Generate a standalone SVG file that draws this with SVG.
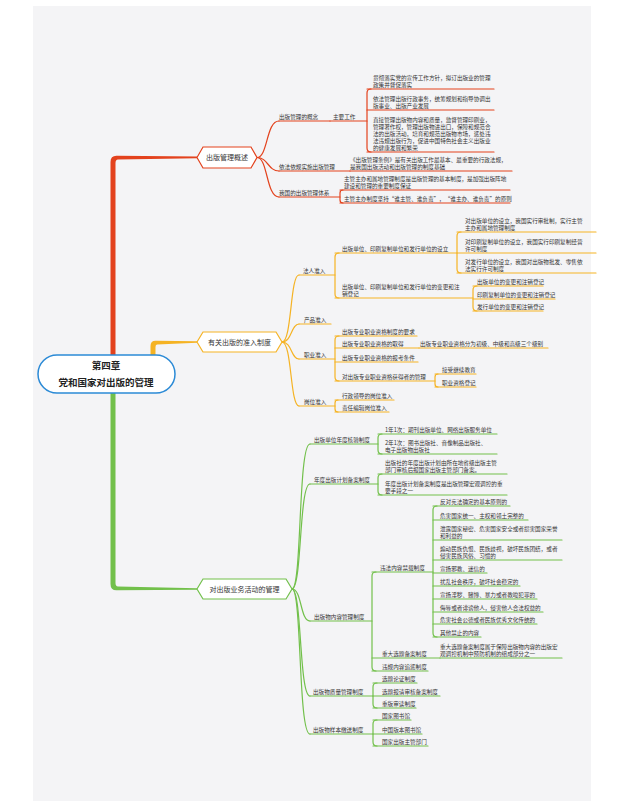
<svg xmlns="http://www.w3.org/2000/svg" width="619" height="805" viewBox="0 0 619 805">
<style>
text{font-family:"Noto Sans CJK SC","Noto Sans",sans-serif;fill:#333;font-size:5.6px}
.h{font-size:7px;text-anchor:middle}
.c{font-size:9.5px;font-weight:bold;text-anchor:middle;fill:#222}
.r{stroke:#e3421d;fill:none;stroke-width:1.2;stroke-linecap:round}
.y{stroke:#f5b324;fill:none;stroke-width:1.2;stroke-linecap:round}
.g{stroke:#72c04b;fill:none;stroke-width:1.2;stroke-linecap:round}
.hr{fill:#fff;stroke:#e3421d;stroke-width:1.2}
.hy{fill:#fff;stroke:#f5b324;stroke-width:1.2}
.hg{fill:#fff;stroke:#72c04b;stroke-width:1.2}
</style>
<rect x="0" y="0" width="619" height="805" fill="#fff"/>
<rect x="33" y="6" width="558" height="795" fill="#f4f4f6"/>

<g id="connectors">
  <path d="M110.5 356 L110.5 162 Q110.5 155.5 117 155.8 L197 156.6 L197 158.2 L118 159.6 Q115.5 159.8 115.5 163 L115.5 356 Z" fill="#e3421d"/>
  <path d="M150.5 356 L150.5 346 Q150.5 340.6 156 340.8 L197 341.3 L197 342.8 L157 344.4 Q155.5 344.6 155.5 347 L155.5 356 Z" fill="#f5b324"/>
  <path d="M110.5 392 L110.5 584 Q110.5 590.6 117 590.3 L197 589.8 L197 588.3 L118 586.6 Q115.5 586.4 115.5 583 L115.5 392 Z" fill="#72c04b"/>
  <!-- red -->
  <path class="r" d="M257 157.5 C268 157.5 266 121 279 121"/>
  <path class="r" d="M257 157.5 C268 157.5 268 171 279 171"/>
  <path class="r" d="M257 157.5 C268 157.5 266 197 279 197"/>
  <path class="r" d="M371 89 Q367 89 367 93 V148 Q367 152 371 152"/>
  <path class="r" d="M343 190 Q340 190 340 193 V200 Q340 203 343 203"/>
  <!-- yellow -->
  <path class="y" d="M282 342 C292 342 290 275 299 275"/>
  <path class="y" d="M282 342 C292 342 291 324 299 324"/>
  <path class="y" d="M282 342 C292 342 291 359 299 359"/>
  <path class="y" d="M282 342 C292 342 290 406 299 406"/>
  <path class="y" d="M339 253 Q335 253 335 257 V294 Q335 298 339 298"/>
  <path class="y" d="M461 232 Q457 232 457 236 V269 Q457 273 461 273"/>
  <path class="y" d="M477 286 Q473 286 473 290 V307 Q473 311 477 311"/>
  <path class="y" d="M339 336 Q335 336 335 340 V377 Q335 381 339 381"/>
  <path class="y" d="M438 374 Q435 374 435 377 V384 Q435 387 438 387"/>
  <path class="y" d="M338 400 Q335 400 335 403 V409 Q335 412 338 412"/>
  <!-- green -->
  <path class="g" d="M292 589 C302 589 298 444 310 444"/>
  <path class="g" d="M292 589 C302 589 299 484 310 484"/>
  <path class="g" d="M292 589 C302 589 300 621 310 621"/>
  <path class="g" d="M292 589 C302 589 299 696 310 696"/>
  <path class="g" d="M292 589 C302 589 298 734 310 734"/>
  <path class="g" d="M382 434 Q378 434 378 438 V450 Q378 454 382 454"/>
  <path class="g" d="M382 474 Q378 474 378 478 V491 Q378 495 382 495"/>
  <path class="g" d="M376 572 Q372 572 372 576 V667 Q372 671 376 671"/>
  <path class="g" d="M437 506 Q433 506 433 510 V633 Q433 637 437 637"/>
  <path class="g" d="M377 683 Q373 683 373 687 V704 Q373 708 377 708"/>
  <path class="g" d="M377 720 Q373 720 373 724 V742 Q373 746 377 746"/>
</g>

<g id="root">
  <rect x="38" y="355" width="137" height="38" rx="19" fill="#fff" stroke="#2b8ad6" stroke-width="1.5"/>
  <text class="c" x="106" y="368.5">第四章</text>
  <text class="c" x="106" y="385.5">党和国家对出版的管理</text>
</g>

<!-- red branch -->
<g id="n-gaishu">
  <polygon class="hr" points="197,157.5 203,147 251,147 257,157.5 251,168 203,168"/>
  <text class="h" x="227" y="160.2">出版管理概述</text>
</g>
<g id="n-gainian"><line class="r" x1="279" y1="121" x2="330" y2="121"/><text x="279" y="119.2">出版管理的概念</text></g>
<g id="n-zhuyao"><line class="r" x1="330" y1="121" x2="367" y2="121"/><text x="333" y="119.2">主要工作</text></g>
<g id="n-zy1"><line class="r" x1="367" y1="89" x2="494" y2="89"/><text x="373" y="80.2">贯彻落实党的宣传工作方针，拟订出版业的管理</text><text x="373" y="87.2">政策并督促落实</text></g>
<g id="n-zy2"><line class="r" x1="367" y1="110" x2="494" y2="110"/><text x="373" y="101.2">依法管理出版行政事务，统筹规划和指导协调出</text><text x="373" y="108.2">版事业、出版产业发展</text></g>
<g id="n-zy3"><line class="r" x1="367" y1="152" x2="494" y2="152"/>
  <text x="373" y="122.2">直接管理出版物内容和质量，监督管理印刷业，</text>
  <text x="373" y="129.2">管理著作权，管理出版物进出口，保障和规范合</text>
  <text x="373" y="136.2">法的出版活动，培育和规范出版物市场，惩处违</text>
  <text x="373" y="143.2">法违规出版行为，促进中国特色社会主义出版业</text>
  <text x="373" y="150.2">的健康发展和繁荣</text></g>
<g id="n-yifa"><line class="r" x1="279" y1="171" x2="350" y2="171"/><text x="279" y="169.2">依法依规实施出版管理</text></g>
<g id="n-tiaoli"><line class="r" x1="350" y1="171" x2="512" y2="171"/><text x="350" y="162.2">《出版管理条例》是有关出版工作最基本、最重要的行政法规，</text><text x="350" y="169.2">是我国出版活动和出版管理的制度基础</text></g>
<g id="n-tixi"><line class="r" x1="279" y1="197" x2="340" y2="197"/><text x="279" y="195.2">我国的出版管理体系</text></g>
<g id="n-tixi1"><line class="r" x1="340" y1="190" x2="510" y2="190"/><text x="344" y="181.2">主管主办和属地管理制度是出版管理的基本制度，是加强出版阵地</text><text x="344" y="188.2">建设和管理的重要制度保证</text></g>
<g id="n-tixi2"><line class="r" x1="340" y1="203" x2="510" y2="203"/><text x="344" y="201.2">主管主办制度坚持“谁主管、谁负责”，“谁主办、谁负责”的原则</text></g>

<!-- yellow branch -->
<g id="n-zhunru">
  <polygon class="hy" points="197,342 203,332 276,332 282,342 276,352 203,352"/>
  <text class="h" x="239.5" y="344.7">有关出版的准入制度</text>
</g>
<g id="n-faren"><line class="y" x1="299" y1="275" x2="335" y2="275"/><text x="303" y="273.2">法人准入</text></g>
<g id="n-sheli"><line class="y" x1="335" y1="253" x2="457" y2="253"/><text x="342" y="251.2">出版单位、印刷复制单位和发行单位的设立</text></g>
<g id="n-sheli1"><line class="y" x1="457" y1="232" x2="596" y2="232"/><text x="465" y="223.2">对出版单位的设立，我国实行审批制，实行主管</text><text x="465" y="230.2">主办和属地管理制度</text></g>
<g id="n-sheli2"><line class="y" x1="457" y1="253" x2="596" y2="253"/><text x="465" y="244.2">对印刷复制单位的设立，我国实行印刷复制经营</text><text x="465" y="251.2">许可制度</text></g>
<g id="n-sheli3"><line class="y" x1="457" y1="273" x2="596" y2="273"/><text x="465" y="264.2">对发行单位的设立，我国对出版物批发、零售依</text><text x="465" y="271.2">法实行许可制度</text></g>
<g id="n-biangeng"><line class="y" x1="335" y1="298" x2="473" y2="298"/><text x="342" y="289.2">出版单位、印刷复制单位和发行单位的变更和注</text><text x="342" y="296.2">销登记</text></g>
<g id="n-bg1"><line class="y" x1="473" y1="286" x2="543" y2="286"/><text x="477" y="284.2">出版单位的变更和注销登记</text></g>
<g id="n-bg2"><line class="y" x1="473" y1="299" x2="555" y2="299"/><text x="477" y="297.2">印刷复制单位的变更和注销登记</text></g>
<g id="n-bg3"><line class="y" x1="473" y1="311" x2="543" y2="311"/><text x="477" y="309.2">发行单位的变更和注销登记</text></g>
<g id="n-chanpin"><line class="y" x1="299" y1="324" x2="331" y2="324"/><text x="304" y="322.2">产品准入</text></g>
<g id="n-zhiye"><line class="y" x1="299" y1="359" x2="335" y2="359"/><text x="304" y="357.2">职业准入</text></g>
<g id="n-zy-a"><line class="y" x1="335" y1="336" x2="417" y2="336"/><text x="342" y="334.2">出版专业职业资格制度的要求</text></g>
<g id="n-zy-b"><line class="y" x1="335" y1="348" x2="419" y2="348"/><text x="342" y="346.2">出版专业职业资格的取得</text></g>
<g id="n-zy-b1"><line class="y" x1="419" y1="348" x2="548" y2="348"/><text x="420" y="346.2">出版专业职业资格分为初级、中级和高级三个级别</text></g>
<g id="n-zy-c"><line class="y" x1="335" y1="362" x2="418" y2="362"/><text x="342" y="360.2">出版专业职业资格的报考条件</text></g>
<g id="n-zy-d"><line class="y" x1="335" y1="381" x2="435" y2="381"/><text x="342" y="379.2">对出版专业职业资格获得者的管理</text></g>
<g id="n-zy-d1"><line class="y" x1="435" y1="374" x2="476" y2="374"/><text x="442" y="372.2">接受继续教育</text></g>
<g id="n-zy-d2"><line class="y" x1="435" y1="387" x2="476" y2="387"/><text x="442" y="385.2">职业资格登记</text></g>
<g id="n-gangwei"><line class="y" x1="299" y1="406" x2="335" y2="406"/><text x="304" y="404.2">岗位准入</text></g>
<g id="n-gw1"><line class="y" x1="335" y1="400" x2="394" y2="400"/><text x="342" y="398.2">行政领导的岗位准入</text></g>
<g id="n-gw2"><line class="y" x1="335" y1="412" x2="389" y2="412"/><text x="342" y="410.2">责任编辑岗位准入</text></g>

<!-- green branch -->
<g id="n-yewu">
  <polygon class="hg" points="197,589 203,579 286,579 292,589 286,599 203,599"/>
  <text class="h" x="244.5" y="591.7">对出版业务活动的管理</text>
</g>
<g id="n-hejian"><line class="g" x1="310" y1="444" x2="378" y2="444"/><text x="314" y="442.2">出版单位年度核验制度</text></g>
<g id="n-hj1"><line class="g" x1="378" y1="434" x2="497" y2="434"/><text x="385" y="432.2">1年1次：期刊出版单位、网络出版服务单位</text></g>
<g id="n-hj2"><line class="g" x1="378" y1="454" x2="497" y2="454"/><text x="385" y="445.2">2年1次：图书出版社、音像制品出版社、</text><text x="385" y="452.2">电子出版物出版社</text></g>
<g id="n-jihua"><line class="g" x1="310" y1="484" x2="378" y2="484"/><text x="314" y="482.2">年度出版计划备案制度</text></g>
<g id="n-jh1"><line class="g" x1="378" y1="474" x2="507" y2="474"/><text x="385" y="465.2">出版社的年度出版计划由所在地省级出版主管</text><text x="385" y="472.2">部门审核后报国家出版主管部门备案。</text></g>
<g id="n-jh2"><line class="g" x1="378" y1="495" x2="507" y2="495"/><text x="385" y="486.2">年度出版计划备案制度是出版管理宏观调控的重</text><text x="385" y="493.2">要手段之一</text></g>
<g id="n-neirong"><line class="g" x1="310" y1="621" x2="372" y2="621"/><text x="314" y="619.2">出版物内容管理制度</text></g>
<g id="n-jinzai"><line class="g" x1="372" y1="572" x2="433" y2="572"/><text x="380" y="570.2">违法内容禁载制度</text></g>
<g id="n-jz1"><line class="g" x1="433" y1="506" x2="510" y2="506"/><text x="440" y="504.2">反对宪法确定的基本原则的</text></g>
<g id="n-jz2"><line class="g" x1="433" y1="520" x2="528" y2="520"/><text x="440" y="518.2">危害国家统一、主权和领土完整的</text></g>
<g id="n-jz3"><line class="g" x1="433" y1="540" x2="562" y2="540"/><text x="440" y="531.2">泄露国家秘密、危害国家安全或者损害国家荣誉</text><text x="440" y="538.2">和利益的</text></g>
<g id="n-jz4"><line class="g" x1="433" y1="560" x2="562" y2="560"/><text x="440" y="551.2">煽动民族仇恨、民族歧视，破坏民族团结，或者</text><text x="440" y="558.2">侵害民族风俗、习惯的</text></g>
<g id="n-jz5"><line class="g" x1="433" y1="573" x2="487" y2="573"/><text x="440" y="571.2">宣扬邪教、迷信的</text></g>
<g id="n-jz6"><line class="g" x1="433" y1="586" x2="520" y2="586"/><text x="440" y="584.2">扰乱社会秩序，破坏社会稳定的</text></g>
<g id="n-jz7"><line class="g" x1="433" y1="599" x2="537" y2="599"/><text x="440" y="597.2">宣扬淫秽、赌博、暴力或者教唆犯罪的</text></g>
<g id="n-jz8"><line class="g" x1="433" y1="612" x2="543" y2="612"/><text x="440" y="610.2">侮辱或者诽谤他人，侵害他人合法权益的</text></g>
<g id="n-jz9"><line class="g" x1="433" y1="624" x2="537" y2="624"/><text x="440" y="622.2">危害社会公德或者民族优秀文化传统的</text></g>
<g id="n-jz10"><line class="g" x1="433" y1="637" x2="481" y2="637"/><text x="440" y="635.2">其他禁止的内容</text></g>
<g id="n-beian"><line class="g" x1="372" y1="658" x2="440" y2="658"/><text x="382" y="656.2">重大选题备案制度</text></g>
<g id="n-beian1"><line class="g" x1="440" y1="658" x2="562" y2="658"/><text x="440" y="649.2">重大选题备案制度属于保障出版物内容的出版宏</text><text x="440" y="656.2">观调控机制中预防机制的组成部分之一</text></g>
<g id="n-zhuicheng"><line class="g" x1="372" y1="671" x2="428" y2="671"/><text x="382" y="669.2">违规内容追惩制度</text></g>
<g id="n-zhiliang"><line class="g" x1="310" y1="696" x2="373" y2="696"/><text x="313" y="694.2">出版物质量管理制度</text></g>
<g id="n-zl1"><line class="g" x1="373" y1="683" x2="417" y2="683"/><text x="382" y="681.2">选题论证制度</text></g>
<g id="n-zl2"><line class="g" x1="373" y1="696" x2="440" y2="696"/><text x="382" y="694.2">选题报请审核备案制度</text></g>
<g id="n-zl3"><line class="g" x1="373" y1="708" x2="416" y2="708"/><text x="382" y="706.2">重版审读制度</text></g>
<g id="n-yangben"><line class="g" x1="310" y1="734" x2="373" y2="734"/><text x="313" y="732.2">出版物样本缴送制度</text></g>
<g id="n-yb1"><line class="g" x1="373" y1="720" x2="411" y2="720"/><text x="382" y="718.2">国家图书馆</text></g>
<g id="n-yb2"><line class="g" x1="373" y1="734" x2="422" y2="734"/><text x="382" y="732.2">中国版本图书馆</text></g>
<g id="n-yb3"><line class="g" x1="373" y1="746" x2="428" y2="746"/><text x="382" y="744.2">国家出版主管部门</text></g>
</svg>
